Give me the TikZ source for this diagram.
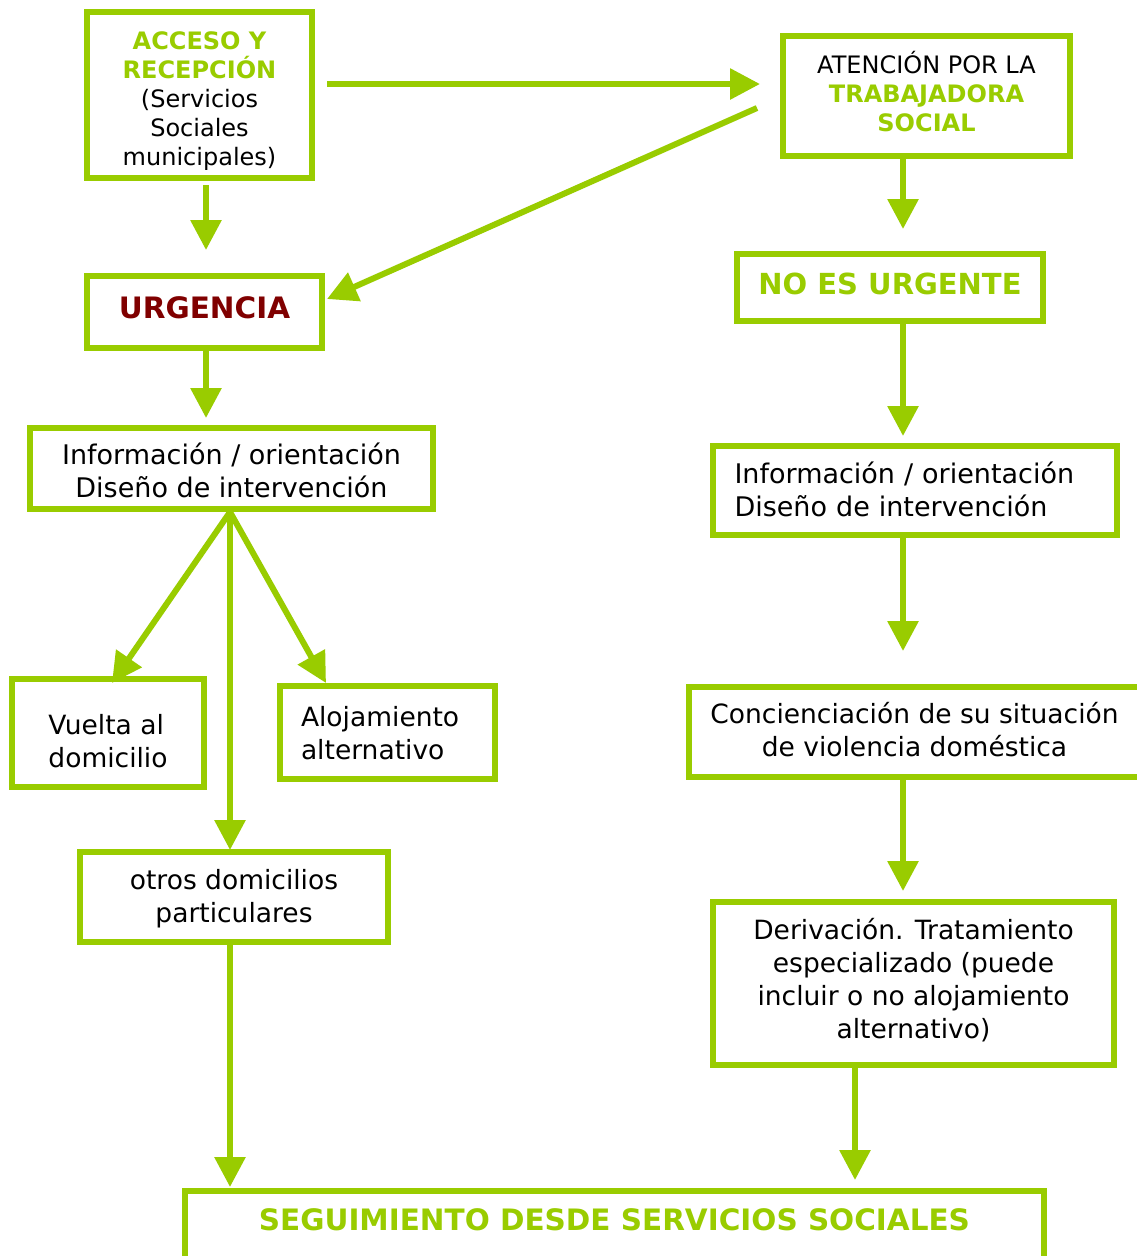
\documentclass[tikz,border=0pt]{standalone}
\usepackage{fontspec}
\setmainfont{DejaVu Sans}
\usetikzlibrary{arrows.meta,calc}
\definecolor{lgreen}{RGB}{153,204,0}
\definecolor{dred}{RGB}{128,0,0}
\tikzset{
  box/.style={draw=lgreen, line width=6pt, rectangle, inner sep=0pt, outer sep=0pt,
    align=center, font=\fontsize{26.5}{33}\selectfont},
  infobox/.style={box, font=\fontsize{27}{33}\selectfont},
  smallbox/.style={box, font=\fontsize{24}{29}\selectfont},
  arr/.style={draw=lgreen, line width=6pt, -{Triangle[length=30pt,width=30pt]}}
}
\newcommand\gtitle[1]{{\bfseries\color{lgreen}#1}}
\begin{document}
\begin{tikzpicture}[x=1pt,y=-1pt]
\useasboundingbox (0,0) rectangle (1137,1256);
\clip (0,0) rectangle (1137,1256);
\fill[white] (0,0) rectangle (1137,1256);

\node[smallbox, minimum width=225pt, minimum height=166pt, text height=153.75pt, text depth=12.25pt] (acc) at (199.5,95)
  {\gtitle{ACCESO Y}\\\gtitle{RECEPCIÓN}\\(Servicios\\Sociales\\municipales)};
\node[smallbox, minimum width=287pt, minimum height=120pt, text height=95.75pt, text depth=24.25pt] (aten) at (926.5,96)
  {ATENCIÓN POR LA\\\gtitle{TRABAJADORA}\\\gtitle{SOCIAL}};
\node[box, minimum width=235pt, minimum height=72pt, text height=42.75pt, text depth=29.25pt,
  font=\fontsize{29.5}{33}\selectfont\bfseries, text=dred] (urg) at (204.5,312) {URGENCIA};
\node[box, minimum width=306pt, minimum height=67pt, text height=40.6pt, text depth=26.4pt,
  font=\fontsize{29}{33}\selectfont\bfseries, text=lgreen] (noes) at (890,287.5) {NO ES URGENTE};
\node[infobox, minimum width=403pt, minimum height=81pt, text height=69.8pt, text depth=11.2pt] (infoL) at (231.5,468.5)
  {Información / orientación\\Diseño de intervención};
\node[infobox, minimum width=404pt, minimum height=89pt, text width=361pt, align=left, text height=37.6pt, text depth=51.4pt] (infoR) at (915,490.5)
  {Información / orientación\\Diseño de intervención};
\node[box, minimum width=192pt, minimum height=108pt, align=left, text height=88.6pt, text depth=19.4pt] (vuelta) at (108,733)
  {Vuelta al\\domicilio};
\node[box, minimum width=215pt, minimum height=93pt, text width=172pt, align=left, text height=40.6pt, text depth=52.4pt] (aloj) at (387,732.5)
  {Alojamiento\\alternativo};
\node[box, minimum width=308pt, minimum height=90pt, text height=70.6pt, text depth=19.4pt] (otros) at (234,897)
  {otros domicilios\\particulares};
\node[box, minimum width=451pt, minimum height=90pt, text height=69.6pt, text depth=20.4pt] (conc) at (914.5,732)
  {Concienciación de su situación\\de violencia doméstica};
\node[box, minimum width=401pt, minimum height=163pt, text height=136.6pt, text depth=26.4pt] (deriv) at (913.5,983.5)
  {Derivación. Tratamiento\\especializado (puede\\incluir o no alojamiento\\alternativo)};
\node[box, minimum width=859pt, minimum height=120pt, text height=39.5pt, text depth=80.5pt,
  font=\fontsize{29.5}{33}\selectfont\bfseries, text=lgreen] (seg) at (614.5,1251)
  {SEGUIMIENTO DESDE SERVICIOS SOCIALES};

\draw[arr] ($(acc.east)+(15,-11)$) -- ($(aten.west)+(-23,-12)$);
\draw[arr] ($(aten.west)+(-26,12)$) -- ($(urg.east)+(5,-13)$);
\draw[arr] ($(acc.south)+(6.5,7)$) -- ($(urg.north)+(1.5,-26)$);
\draw[arr] ($(urg.south)+(1.5,1)$) -- ($(infoL.north)+(-25.5,-10)$);
\draw[arr] ($(aten.south)+(-23.5,1)$) -- ($(noes.north)+(13,-25)$);
\draw[arr] ($(noes.south)+(13,1)$) -- ($(infoR.north)+(-12,-10)$);
\draw[arr] ($(infoL.south)+(-1.5,3)$) -- ($(vuelta.north)+(4,4)$);
\draw[arr] ($(infoL.south)+(-1.5,3)$) -- ($(aloj.north)+(-61,-3)$);
\draw[arr] ($(infoL.south)+(-1.5,3)$) -- ($(otros.north)+(-4,-2)$);
\draw[arr] ($(infoR.south)+(-12,3)$) -- ($(conc.north)+(-11.5,-36)$);
\draw[arr] ($(conc.south)+(-11.5,3)$) -- ($(deriv.north)+(-10.5,-11)$);
\draw[arr] ($(deriv.south)+(-58.5,3)$) -- ($(seg.north)+(240.5,-11)$);
\draw[arr] ($(otros.south)+(-4,3)$) -- ($(seg.north)+(-384.5,-4)$);
\end{tikzpicture}
\end{document}
